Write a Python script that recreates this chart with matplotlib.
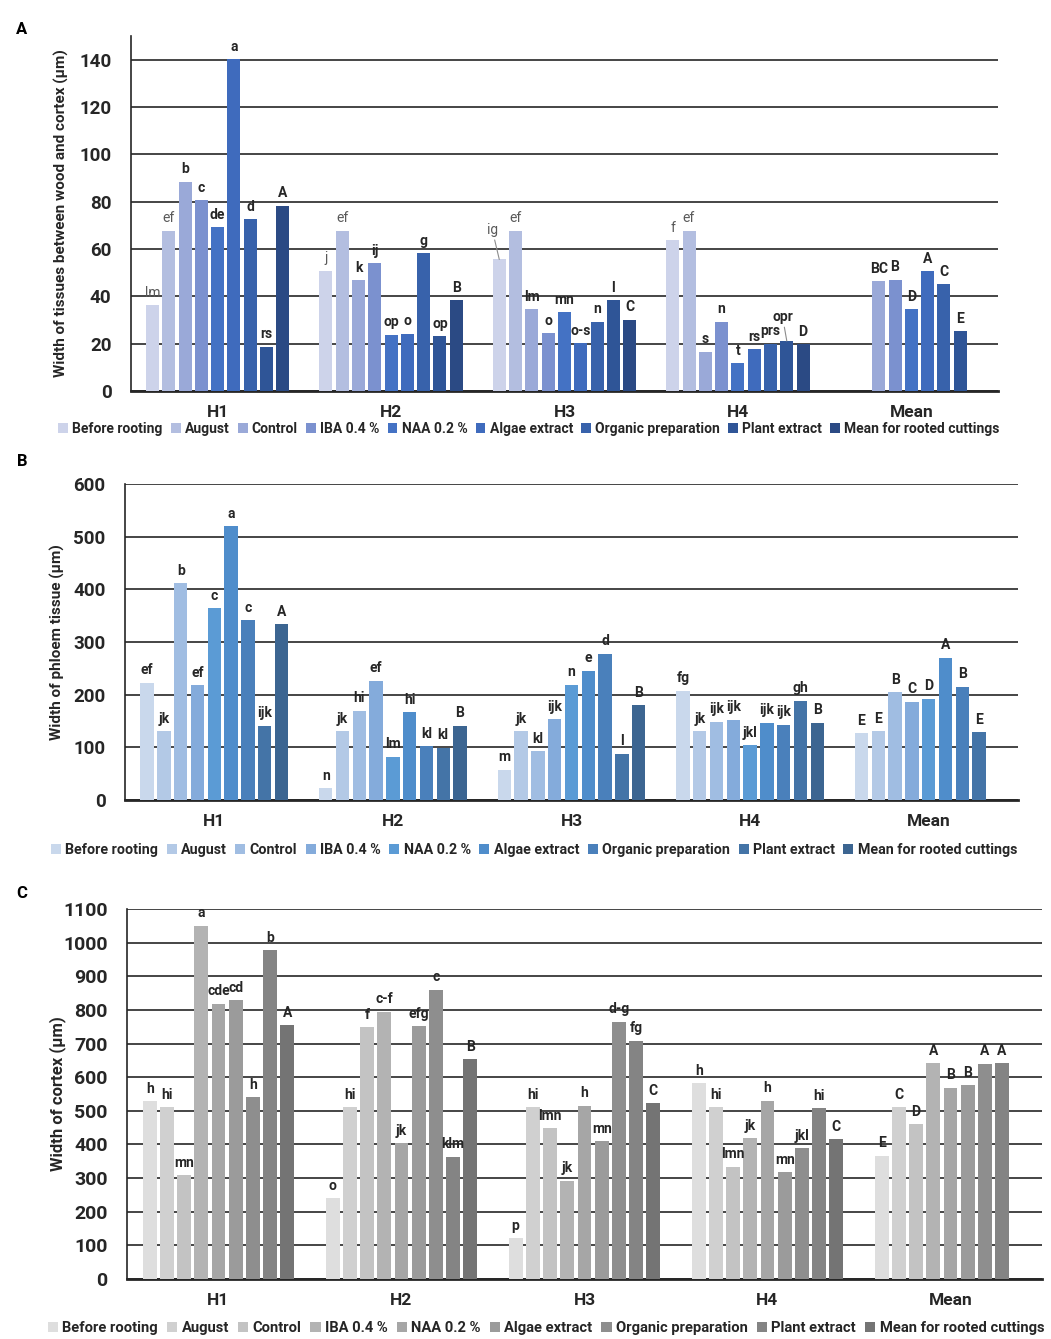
import numpy as np
import matplotlib.pyplot as plt

plt.rcParams['font.family'] = ['Roboto', 'DejaVu Sans']

nan = np.nan

groups = ['H1', 'H2', 'H3', 'H4', 'Mean']
series = ['Before rooting', 'August', 'Control', 'IBA 0.4 %', 'NAA 0.2 %',
          'Algae extract', 'Organic preparation', 'Plant extract',
          'Mean for rooted cuttings']

# A - tissues between wood and cortex, one row per group
a_vals = [
    [36.3, 67.7, 88.4, 80.6, 69.1, 140.1, 72.5, 18.7, 78.2],
    [50.9, 67.7, 46.7, 53.9, 23.8, 24.2, 58.1, 23.2, 38.4],
    [55.6, 67.7, 34.5, 24.3, 33.3, 20.1, 29.3, 38.3, 30.0],
    [63.6, 67.7, 16.6, 29.3, 11.7, 17.6, 20.0, 21.1, 19.7],
    [nan, nan, 46.4, 47.0, 34.5, 50.5, 45.0, 25.2, nan],
]
a_letters = [
    ['lm', 'ef', 'b', 'c', 'de', 'a', 'd', 'rs', 'A'],
    ['j', 'ef', 'k', 'ij', 'op', 'o', 'g', 'op', 'B'],
    ['ig', 'ef', 'lm', 'o', 'mn', 'o-s', 'n', 'l', 'C'],
    ['f', 'ef', 's', 'n', 't', 'rs', 'prs', 'opr', 'D'],
    ['', '', 'BC', 'B', 'D', 'A', 'C', 'E', ''],
]

# B - phloem tissue
b_vals = [
    [223, 131, 412, 218, 364, 520, 341, 141, 334],
    [22, 131, 170, 226, 82, 167, 102, 99, 141],
    [58, 131, 93, 153, 219, 245, 278, 88, 180],
    [207, 131, 149, 152, 104, 147, 143, 189, 147],
    [127, 131, 205, 187, 192, 270, 215, 129, nan],
]
b_letters = [
    ['ef', 'jk', 'b', 'ef', 'c', 'a', 'c', 'ijk', 'A'],
    ['n', 'jk', 'hi', 'ef', 'lm', 'hi', 'kl', 'kl', 'B'],
    ['m', 'jk', 'kl', 'ijk', 'n', 'e', 'd', 'l', 'B'],
    ['fg', 'jk', 'ijk', 'ijk', 'jkl', 'ijk', 'ijk', 'gh', 'B'],
    ['E', 'E', 'B', 'C', 'D', 'A', 'B', 'E', ''],
]

# C - cortex
c_vals = [
    [529, 510, 309, 1050, 819, 829, 540, 978, 755],
    [240, 510, 748, 795, 403, 752, 860, 364, 653],
    [121, 511, 448, 292, 515, 410, 764, 708, 523],
    [582, 511, 334, 419, 530, 317, 389, 507, 416],
    [367, 511, 460, 642, 569, 576, 640, 642, nan],
]
c_letters = [
    ['h', 'hi', 'mn', 'a', 'cde', 'cd', 'h', 'b', 'A'],
    ['o', 'hi', 'f', 'c-f', 'jk', 'efg', 'c', 'klm', 'B'],
    ['p', 'hi', 'lmn', 'jk', 'h', 'mn', 'd-g', 'fg', 'C'],
    ['h', 'hi', 'lmn', 'jk', 'h', 'mn', 'jkl', 'hi', 'C'],
    ['E', 'C', 'D', 'A', 'B', 'B', 'A', 'A', ''],
]

blues_a = ['#cdd3ea', '#b3bee0', '#9aa9d8', '#7b91cf', '#4472c4',
           '#3f6bbd', '#3862ab', '#2f5597', '#2b4a84']
blues_b = ['#c9d8ec', '#b3c9e6', '#a0bde2', '#84abdb', '#5b9bd5',
           '#4f8dcb', '#4a80bb', '#4474a7', '#3c6591']
greys_c = ['#dedede', '#d0d0d0', '#c3c3c3', '#b3b3b3', '#a6a6a6',
           '#9b9b9b', '#8e8e8e', '#848484', '#747474']

dark = '#262626'

# labels moved off the bar with a leader line: (group, series) -> offset in points
leader_a = {(2, 0): (-5, 16), (3, 7): (-3, 12)}


def panel(ax, vals, letters, colors, ymax, ytop, ystep, ylabel, ylab_fs,
          ylab_x, tick_fs, grey_first=False, leaders=None):
    leaders = leaders or {}
    n = len(series)
    slot = 0.094
    width = 0.075
    x = np.arange(len(groups)) + 0.5
    for k in range(n):
        h = [row[k] for row in vals]
        xs = x + (k - (n - 1) / 2) * slot
        ax.bar(xs, h, width, color=colors[k], label=series[k], zorder=3)
        for j in range(len(groups)):
            t = letters[j][k]
            if not t or np.isnan(h[j]):
                continue
            if grey_first and k < 2:
                col, fw = '#595959', 'normal'
            else:
                col, fw = dark, 'bold'
            if (j, k) in leaders:
                ax.annotate(t, (xs[j], h[j]), xytext=leaders[(j, k)],
                            textcoords='offset points', ha='center', va='bottom',
                            fontsize=10, fontweight=fw, color=col, zorder=4,
                            arrowprops=dict(arrowstyle='-', color='#8c8c8c',
                                            lw=0.8, shrinkA=0, shrinkB=0))
            else:
                ax.annotate(t, (xs[j], h[j]), xytext=(0, 4), textcoords='offset points',
                            ha='center', va='bottom', fontsize=10, fontweight=fw,
                            color=col, zorder=4)
    ax.set_xlim(0, len(groups))
    ax.set_ylim(0, ytop)
    ax.set_yticks(np.arange(0, ymax + 1, ystep))
    ax.set_xticks(x)
    ax.set_xticklabels(groups, fontsize=12.5, fontweight='bold', color=dark)
    for lab in ax.get_yticklabels():
        lab.set_fontweight('bold')
        lab.set_fontsize(tick_fs)
        lab.set_color(dark)
    ax.tick_params(length=0)
    ax.tick_params(axis='x', pad=10)
    ax.tick_params(axis='y', pad=14)
    ax.yaxis.grid(True, color=dark, lw=1.2)
    ax.set_axisbelow(True)
    ax.spines['top'].set_visible(False)
    ax.spines['right'].set_visible(False)
    ax.spines['left'].set_color(dark)
    ax.spines['left'].set_linewidth(1.2)
    ax.spines['bottom'].set_color(dark)
    ax.spines['bottom'].set_linewidth(2)
    ax.set_ylabel(ylabel, fontsize=ylab_fs, fontweight='bold', color=dark)
    ax.yaxis.set_label_coords(ylab_x, 0.5)


fig = plt.figure(figsize=(10.51, 13.39), dpi=100)

axA = fig.add_axes([0.1246, 0.708, 0.825, 0.2651])
axB = fig.add_axes([0.1189, 0.4025, 0.8497, 0.236])
axC = fig.add_axes([0.1208, 0.0448, 0.8706, 0.2763])

panel(axA, a_vals, a_letters, blues_a, 140, 150, 20,
      'Width of tissues between wood and cortex (µm)', 11, -0.0715, 13.5,
      grey_first=True, leaders=leader_a)
panel(axB, b_vals, b_letters, blues_b, 600, 600, 100,
      'Width of phloem tissue (µm)', 11, -0.067, 13.5)
panel(axC, c_vals, c_letters, greys_c, 1100, 1100, 100,
      'Width of cortex (µm)', 12, -0.0667, 14)

legend_spots = [(axA, 529, 429, 10), (axB, 534, 850, 10.3), (axC, 546, 1328, 10.6)]
for ax, cx, cy, fs in legend_spots:
    ax.legend(loc='center', bbox_to_anchor=(cx / 1051, 1 - cy / 1339),
              bbox_transform=fig.transFigure, ncol=9, frameon=False,
              handlelength=0.7, handleheight=0.7, handletextpad=0.3,
              columnspacing=0.6, borderpad=0,
              prop={'weight': 'bold', 'size': fs})
    for t in ax.get_legend().get_texts():
        t.set_color(dark)

for letter, y in [('A', 30), ('B', 462), ('C', 893)]:
    fig.text(22 / 1051, 1 - y / 1339, letter, fontsize=12, fontweight='bold',
             ha='center', va='center', color='black')

fig.savefig('out.png', dpi=100)
